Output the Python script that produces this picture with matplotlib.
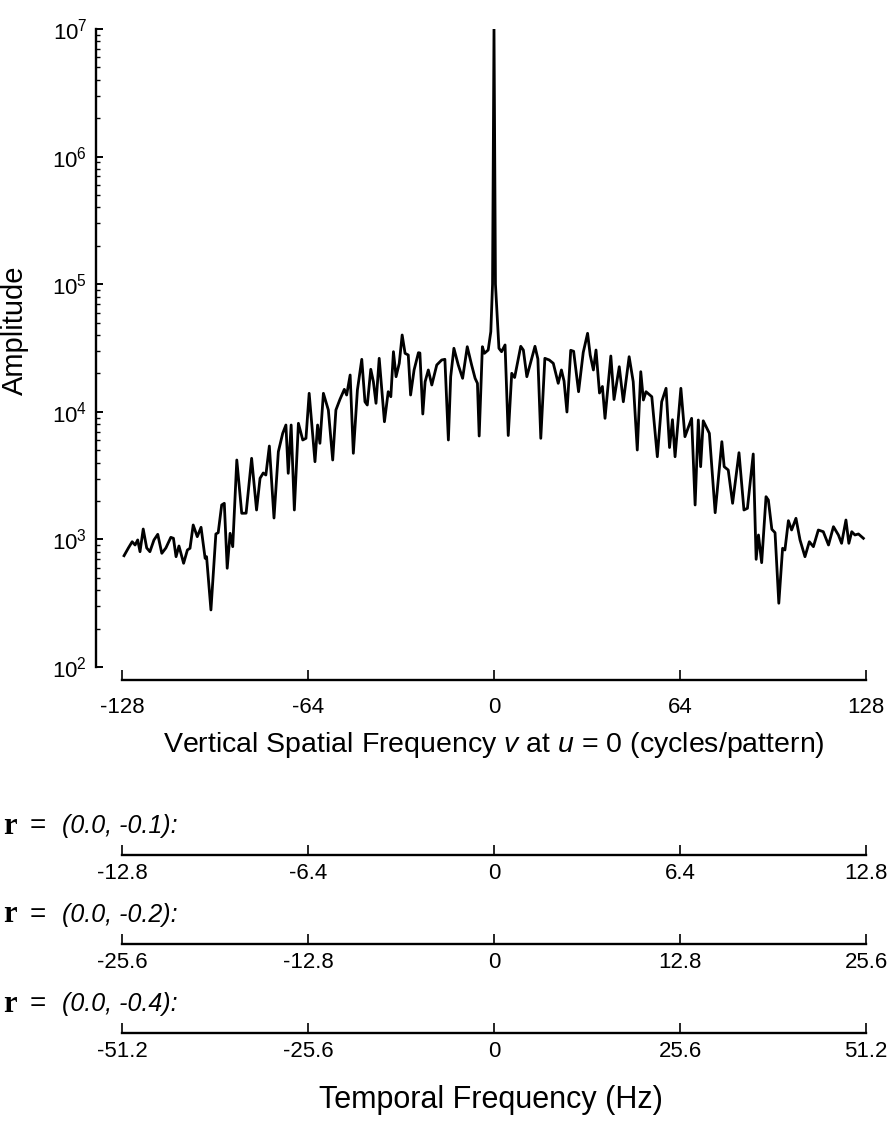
import numpy as np
import matplotlib.pyplot as plt
from matplotlib.ticker import LogLocator, NullFormatter

plt.rcParams['font.family'] = ['Liberation Sans', 'DejaVu Sans']
plt.rcParams['mathtext.fontset'] = 'custom'
plt.rcParams['mathtext.rm'] = 'Liberation Sans'
plt.rcParams['mathtext.it'] = 'Liberation Sans:italic'

# spectrum (vertices of the trace)
freq = [-127.3, -125.8, -124.5, -123.5, -122.6, -121.8, -120.7, -119.5, -118.4, -117.0,
        -115.7, -114.3, -112.9, -111.2, -110.3, -109.4, -108.4, -106.8, -105.5, -104.6,
        -103.5, -102.1, -100.8, -99.4, -98.9, -97.4, -95.7, -94.9, -93.7, -92.8,
        -91.8, -90.8, -89.9, -88.5, -86.8, -85.3, -83.4, -81.7, -80.5, -79.4,
        -78.5, -77.3, -75.7, -74.2, -72.7, -71.6, -70.8, -69.8, -68.7, -67.3,
        -65.8, -64.7, -63.6, -61.6, -60.7, -59.9, -58.7, -57.0, -55.5, -54.4,
        -53.0, -51.5, -50.7, -49.5, -48.4, -47.0, -45.5, -44.4, -43.6, -42.4,
        -41.5, -40.6, -39.5, -37.7, -36.4, -35.5, -34.6, -33.7, -32.6, -31.6,
        -30.6, -29.5, -28.7, -27.5, -26.0, -25.5, -24.5, -23.7, -22.6, -21.4,
        -19.7, -18.0, -16.9, -15.7, -14.9, -13.8, -12.3, -10.8, -9.2, -7.7,
        -6.5, -5.7, -5.1, -4.0, -3.3, -2.0, -1.1, -0.5, 0.0, 0.5,
        1.7, 2.6, 3.8, 4.9, 6.1, 7.1, 9.2, 10.1, 11.3, 14.1,
        15.1, 16.1, 17.5, 19.0, 20.4, 22.1, 23.2, 24.1, 25.1, 26.4,
        27.4, 29.1, 30.7, 32.2, 33.1, 34.2, 35.1, 36.3, 37.3, 38.2,
        40.2, 41.3, 43.1, 44.5, 46.5, 47.9, 49.3, 50.5, 51.4, 52.3,
        54.3, 56.2, 57.7, 59.2, 60.4, 61.4, 62.3, 64.3, 65.7, 68.0,
        69.2, 70.3, 71.1, 72.0, 74.1, 76.1, 78.4, 79.2, 80.6, 82.1,
        84.3, 86.0, 87.2, 89.2, 90.2, 91.0, 92.1, 93.6, 94.4, 95.6,
        96.7, 98.0, 99.3, 100.1, 101.3, 102.4, 103.9, 105.3, 107.0, 108.5,
        109.9, 111.6, 113.3, 115.1, 116.8, 118.5, 119.6, 121.1, 122.1, 123.1,
        124.2, 125.4, 127.1]

amp = [745, 857, 959, 904, 990, 801, 1206, 857, 801, 990,
       1096, 778, 857, 1038, 1020, 732, 888, 650, 826, 852,
       1297, 1050, 1244, 711, 732, 280, 1103, 1129, 1861, 1918,
       594, 1116, 877, 4190, 1602, 1605, 4320, 1700, 3013, 3314,
       3196, 5393, 1471, 4870, 6785, 7880, 3296, 7880, 1700, 8126,
       6012, 6198, 13960, 4064, 7880, 5665, 13960, 10330, 4190, 10330,
       12530, 15000, 13540, 19420, 4729, 14820, 25780, 11990, 11300, 21530,
       17220, 11660, 26250, 8360, 14370, 13130, 29580, 18840, 23990, 39990,
       28730, 27860, 13540, 21270, 29060, 28900, 9610, 17220, 21270, 16220,
       23280, 25470, 25780, 6012, 18840, 31460, 23280, 18300, 32370, 23280,
       18300, 16720, 6460, 32370, 28730, 30490, 42450, 100000, 10000000, 100000,
       31460, 29580, 33410, 6520, 20030, 18570, 32610, 30490, 18840, 32610,
       25930, 6198, 26250, 25470, 23990, 16720, 21270, 17420, 9960, 30340,
       29800, 14370, 29170, 41220, 27860, 21270, 30490, 14040, 15790, 8890,
       27370, 12480, 22560, 11990, 27030, 17220, 5018, 20620, 12370, 14370,
       13130, 4446, 11990, 15280, 5249, 8670, 4446, 15280, 6383, 8890,
       1861, 8625, 3714, 8500, 6785, 1619, 5833, 3714, 3498, 1918,
       4780, 1700, 1753, 4670, 698, 1083, 657, 2161, 2036, 1200,
       1129, 316, 852, 826, 1402, 1185, 1463, 990, 732, 959,
       877, 1185, 1149, 904, 1258, 1083, 932, 1419, 932, 1149,
       1083, 1103, 1020]

v_ticks = [-128, -64, 0, 64, 128]
v_labels = ['-128', '-64', '0', '64', '128']

r_labels = ['(0.0, -0.1):', '(0.0, -0.2):', '(0.0, -0.4):']
hz_ticks = [[-12.8, -6.4, 0, 6.4, 12.8],
            [-25.6, -12.8, 0, 12.8, 25.6],
            [-51.2, -25.6, 0, 25.6, 51.2]]
hz_labels = [['-12.8', '-6.4', '0', '6.4', '12.8'],
             ['-25.6', '-12.8', '0', '12.8', '25.6'],
             ['-51.2', '-25.6', '0', '25.6', '51.2']]

W, H = 890, 1131
fig = plt.figure(figsize=(W / 100, H / 100), dpi=100)

x0, x1 = 122, 866
ax = fig.add_axes([x0 / W, (H - 667) / H, (x1 - x0) / W, (667 - 29) / H])
ax.plot(freq, amp, color='black', lw=2.0)
ax.set_yscale('log')
ax.set_ylim(1e2, 1e7)
ax.set_xlim(-128, 128)

for s in ['top', 'right']:
    ax.spines[s].set_visible(False)
ax.spines['left'].set_position(('outward', 19))
ax.spines['bottom'].set_position(('outward', 9.5))
ax.spines['left'].set_linewidth(1.7)
ax.spines['bottom'].set_linewidth(1.7)

ax.yaxis.set_major_locator(LogLocator(base=10, numticks=10))
ax.yaxis.set_minor_locator(LogLocator(base=10, subs=np.arange(2, 10), numticks=20))
ax.yaxis.set_minor_formatter(NullFormatter())
ax.tick_params(axis='y', which='major', direction='in', length=5, width=1.4,
               labelsize=16, pad=6)
ax.tick_params(axis='y', which='minor', direction='in', length=3, width=1.0)

ax.set_xticks(v_ticks)
ax.set_xticklabels(v_labels)
ax.tick_params(axis='x', which='major', direction='in', length=7, width=1.2,
               labelsize=16, pad=12)
ax.set_xlabel(r'Vertical Spatial Frequency $v$ at $u$ = 0 (cycles/pattern)',
              fontsize=20.5, labelpad=9)
fig.text(15 / W, (H - 330) / H, 'Amplitude', fontsize=21, rotation=90,
         ha='center', va='center')

# temporal frequency scales
line_y = [855, 944, 1033]
for i in range(3):
    bx = fig.add_axes([x0 / W, (H - line_y[i]) / H, (x1 - x0) / W, 0.001])
    bx.set_xlim(hz_ticks[i][0], hz_ticks[i][-1])
    bx.set_yticks([])
    for s in ['top', 'right', 'left']:
        bx.spines[s].set_visible(False)
    bx.spines['bottom'].set_linewidth(1.7)
    bx.set_xticks(hz_ticks[i])
    bx.set_xticklabels(hz_labels[i])
    bx.tick_params(axis='x', direction='in', length=7, width=1.2, labelsize=16, pad=6)
    bx.patch.set_visible(False)

    yc = (H - line_y[i] + 29) / H
    fig.text(3 / W, yc, 'r', fontsize=22, family='Liberation Serif',
             weight='bold', va='center')
    fig.text(30 / W, yc, '=', fontsize=20, va='center')
    fig.text(62 / W, yc, r_labels[i], fontsize=18, style='italic', va='center')

fig.text(491 / W, (H - 1100) / H, 'Temporal Frequency (Hz)', fontsize=22,
         ha='center', va='center')

plt.savefig('out.png', dpi=100)
